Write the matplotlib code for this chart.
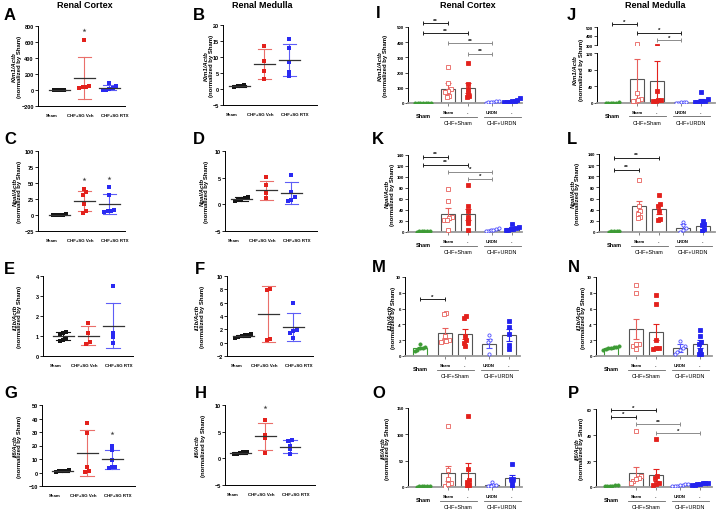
import matplotlib.pyplot as plt
import numpy as np

plt.rcParams['font.family'] = ['Liberation Sans', 'DejaVu Sans']
plt.rcParams['font.weight'] = 'bold'
plt.rcParams['axes.linewidth'] = 0.7

W, H = 719, 510

# ---------- left half: SG RTX study (mean +/- SD) ----------
sg_groups = ['Sham', 'CHF+SG Veh', 'CHF+SG RTX']

A_pts = [[0, 2, -2, 1], [624, 20, 35, 45, 40], [90, 50, 25, 10, 5, 0]]
A_mean = [0, 153, 30]
A_sd = [2, 263, 35]
A_star = [None, 745, None]

B_pts = [[0.7, 1.0, 1.3, 1.0], [13.5, 8.8, 5.5, 3.0], [15.5, 12.8, 8.3, 5.3, 4.0]]
B_mean = [1.0, 7.8, 9.1]
B_sd = [0.3, 4.6, 5.0]
B_star = [None, None, None]

C_pts = [[0, 0.5, 1, 0.5, 0], [41, 36, 32, 17, 7, 3], [43, 31, 8, 6, 5, 6]]
C_mean = [0.5, 22, 17]
C_sd = [0.5, 15, 15.5]
C_star = [None, 56, 58]

D_pts = [[1.3, 1.0, 0.7, 1.2, 0.8], [5.1, 3.6, 2.1, 1.1], [5.5, 2.3, 1.3, 0.9, 0.6]]
D_mean = [1.0, 2.6, 2.1]
D_sd = [0.3, 1.8, 2.0]
D_star = [None, None, None]

E_pts = [[1.2, 1.17, 1.12, 0.92, 0.82, 0.75], [1.65, 1.15, 0.7, 0.6], [3.5, 1.15, 0.95, 0.65]]
E_mean = [1.0, 1.02, 1.52]
E_sd = [0.19, 0.47, 1.13]
E_star = [None, None, None]

F_pts = [[0.7, 1.0, 1.3, 1.1, 0.8, 1.2], [8.1, 7.9, 0.6, 0.45], [5.9, 1.9, 1.7, 1.5, 0.7]]
F_mean = [1.0, 4.3, 2.35]
F_sd = [0.2, 4.2, 2.05]
F_star = [None, None, None]

G_pts = [[1.0, 1.5, 0.8, 1.2, 0.5], [37, 29, 4.3, 1.0, 0.2], [19.6, 16.4, 9.0, 4.3, 3.6, 4.3]]
G_mean = [1.0, 14.5, 9.8]
G_sd = [0.4, 17, 7.2]
G_star = [None, None, 29]

H_pts = [[0.8, 1.0, 1.1, 0.9, 1.2], [7.2, 4.3, 3.8, 1.0], [3.4, 3.3, 2.35, 1.7, 0.8]]
H_mean = [1.0, 4.1, 2.2]
H_sd = [0.2, 2.6, 1.2]
H_star = [None, 9.7, None]

# ---------- right half: URDN study (bars, mean +/- SEM) ----------
I_pts = [[1, 2, 0.5, 1.5, 1, 2, 0.5], [238, 129, 92, 76, 70, 48, 41],
         [266, 122, 92, 63, 44, 37], [3, 8, 5, 12, 10, 6], [33, 20, 9, 15, 5, 12, 8]]
I_mean = [1, 92, 98, 8, 12]
I_err = [0.5, 37, 33, 2, 4]
I_sig = [(0, 1, 524, '**'), (0, 2, 458, '**'), (1, 3, 395, '**'), (2, 3, 325, '**')]

J_pts = [[1.0, 1.5, 0.8, 1.2, 0.9, 1.1], [310, 23, 10, 6, 4, 8], [290, 28, 8, 4, 4, 7],
         [1.5, 2.0, 1.0, 2.5, 0.8], [27, 10, 3, 2, 4, 5, 1.5]]
J_mean = [1.0, 58, 54, 1.5, 5.6]
J_err = [0.3, 48, 47, 0.5, 5]
J_sig = [(0, 1, 530, '*'), (1, 3, 437, '*'), (2, 3, 356, '*')]

K_pts = [[1, 1.5, 0.5, 1, 2, 1], [78, 56, 27, 25, 21, 3, 22], [86, 48, 38, 27, 21, 16, 3],
         [2, 5, 8, 3, 4, 1], [15, 9, 6, 5, 8, 4, 3]]
K_mean = [1, 33, 32, 4, 7]
K_err = [0.3, 11, 10, 1.5, 1.5]
K_sig = [(0, 1, 137, '**'), (0, 2, 122.5, '**'), (1, 3, 110, '*'), (2, 3, 96.5, '*')]

L_pts = [[1, 1.5, 0.5, 1, 2], [93, 47, 37, 33, 27, 25], [67, 50, 47, 37, 23, 21],
         [18, 12, 6.6, 0.6, 3], [20, 15, 13, 5, 2]]
L_mean = [1, 46, 41, 8, 10]
L_err = [0.3, 9, 8, 6, 4]
L_sig = [(0, 2, 133, '**'), (0, 1, 112, '**')]

M_pts = [[1.56, 0.97, 0.63, 1.1, 0.8, 1.0], [5.4, 5.3, 2.0, 1.9, 1.8, 1.9, 2.5],
         [5.06, 4.85, 2.53, 2.0, 1.69, 1.27], [2.6, 2.0, 1.8, 0.3], [4.4, 3.67, 2.74, 0.93, 1.35]]
M_mean = [1.0, 2.95, 2.74, 1.56, 2.62]
M_err = [0.15, 0.65, 0.64, 0.55, 0.76]
M_sig = [(0, 1, 7.17, '*')]

N_pts = [[1.2, 0.9, 1.0, 1.3, 0.8, 1.0, 1.1], [9.0, 8.0, 1.56, 1.27, 1.5, 0.84],
         [7.7, 6.6, 2.0, 1.05, 1.0, 0.84], [1.9, 1.3, 1.0, 0.3, 0.8, 0.5],
         [3.25, 2.5, 1.8, 1.5, 0.3, 0.3, 0.8]]
N_mean = [1.0, 3.46, 3.04, 0.97, 1.48]
N_err = [0.1, 1.27, 1.06, 0.5, 0.5]
N_sig = []

O_pts = [[1, 1.5, 0.5, 1, 2, 1], [115, 32.5, 14.7, 8.3, 2, 5], [134.6, 33.8, 12.8, 9.6, 3.2, 2],
         [9.6, 3, 2, 2.5, 4], [43.4, 14.7, 8.3, 0.6, 16]]
O_mean = [1, 26, 27.4, 3.8, 16.6]
O_err = [0.2, 14, 19, 2.6, 6.4]
O_sig = []

P_pts = [[1, 1.5, 0.5, 1, 1.2, 0.8], [43.3, 8.5, 7.2, 4.6, 3.3, 5.9], [37.3, 8.5, 7.2, 3.3, 1.3, 2.5],
         [1.5, 2, 1, 0.8, 1.2, 2.5, 0.5], [3.3, 2.6, 1.8, 3.0, 2.2, 2.8, 1.5]]
P_mean = [1, 10.6, 9.3, 1.2, 2.5]
P_err = [0.2, 5.1, 4.9, 0.3, 0.4]
P_sig = [(0, 2, 59.2, '*'), (0, 1, 54, '*'), (1, 3, 48.4, '**'), (2, 4, 41.5, '*')]

fig = plt.figure(figsize=(7.19, 5.10), dpi=100)


def add_ax(l, r, t, b):
    return fig.add_axes([l / W, 1 - b / H, (r - l) / W, (b - t) / H])


def ftext(x, y, s, **kw):
    fig.text(x / W, 1 - y / H, s, **kw)


def ylabel2(gene, xg, xn, t, b):
    yc = (t + b) / 2
    ftext(xg, yc, gene, rotation=90, ha='center', va='center', fontsize=4.3, style='italic')
    ftext(xn, yc, '(normalized by Sham)', rotation=90, ha='center', va='center', fontsize=4.3)


def swarm(vals, ppu, step, gap=2.6):
    vals = np.asarray(vals, float)
    order = np.argsort(vals)
    offs = np.zeros(len(vals))
    clusters, cur = [], [order[0]]
    for i in order[1:]:
        if (vals[i] - vals[cur[-1]]) * ppu < gap:
            cur.append(i)
        else:
            clusters.append(cur)
            cur = [i]
    clusters.append(cur)
    for c in clusters:
        for k, i in enumerate(c):
            offs[i] = (k - (len(c) - 1) / 2) * step
    return offs


# ---------- scatter panels ----------
pt_cols = ['#151515', '#e3211c', '#2a2af2']
sd_cols = ['#151515', '#ea6f6b', '#5e5ef6']
label_pos = [-0.28, 0.85, 2.22]


def scatter_panel(rect, x0, pts, mean, sd, star, ylim, yticks):
    l, r, t, b = rect
    ax = add_ax(l, r, t, b)
    ax.set_xlim(x0, x0 + (r - l) / 25)
    ax.set_ylim(ylim)
    ppu = (b - t) / (ylim[1] - ylim[0])
    for g in range(3):
        offs = swarm(pts[g], ppu, 0.13)
        ax.plot(g + offs, pts[g], ls='none', marker='s', ms=2.4, mew=0,
                color=pt_cols[g], zorder=3, clip_on=False)
        lo, hi = mean[g] - sd[g], mean[g] + sd[g]
        ax.plot([g, g], [lo, hi], color=sd_cols[g], lw=0.8, zorder=2, clip_on=False)
        for yy in (lo, hi):
            ax.plot([g - 0.27, g + 0.27], [yy, yy], color=sd_cols[g], lw=0.8, zorder=2, clip_on=False)
        ax.plot([g - 0.42, g + 0.42], [mean[g]] * 2, color='#333333', lw=0.9, zorder=4)
        if star[g] is not None:
            ax.plot(g, star[g], ls='none', marker='*', ms=3, mew=0, color='#444444', zorder=3)
    ax.spines[['top', 'right']].set_visible(False)
    ax.set_yticks(yticks)
    ax.set_xticks(label_pos, sg_groups)
    ax.tick_params(axis='y', length=2, width=0.6, labelsize=4, pad=1)
    ax.tick_params(axis='x', length=0, labelsize=3.2, pad=5)
    return ax


left_panels = [
    ('A', (38, 125, 27, 107), -0.85, A_pts, A_mean, A_sd, A_star, (-200, 800), range(-200, 801, 200), 'Kim1/Actb', (14, 19)),
    ('B', (223, 317, 26, 106), -0.65, B_pts, B_mean, B_sd, B_star, (-5, 20), range(-5, 21, 5), 'Kim1/Actb', (206, 211)),
    ('C', (38, 125, 152, 232), -0.85, C_pts, C_mean, C_sd, C_star, (-25, 100), range(-25, 101, 25), 'Ngal/Actb', (15, 19)),
    ('D', (225, 317, 152, 232), -0.65, D_pts, D_mean, D_sd, D_star, (-5, 10), range(-5, 11, 5), 'Ngal/Actb', (202, 207)),
    ('E', (43, 133, 277, 357), -0.8, E_pts, E_mean, E_sd, E_star, (0, 4), range(0, 5), 'Il1b/Actb', (15, 20)),
    ('F', (227, 313, 277, 357), -0.65, F_pts, F_mean, F_sd, F_star, (-2, 10), range(-2, 11, 2), 'Il1b/Actb', (197, 202)),
    ('G', (42, 135, 406, 487), -0.8, G_pts, G_mean, G_sd, G_star, (-10, 50), range(-10, 51, 10), 'Il6/Actb', (15, 20)),
    ('H', (225, 315, 406, 486), -0.6, H_pts, H_mean, H_sd, H_star, (-5, 10), range(-5, 11, 5), 'Il6/Actb', (197, 203)),
]
letter_xy = {'A': (4, 16), 'B': (193, 16), 'C': (4, 140), 'D': (193, 140),
             'E': (4, 270), 'F': (195, 270), 'G': (4, 393), 'H': (195, 393),
             'I': (376, 14), 'J': (567, 15), 'K': (372, 140), 'L': (567, 140),
             'M': (372, 268), 'N': (568, 268), 'O': (372, 393), 'P': (568, 393)}

for name, rect, x0, pts, mean, sd, star, ylim, yt, gene, lx in left_panels:
    scatter_panel(rect, x0, pts, mean, sd, star, ylim, list(yt))
    ylabel2(gene, lx[0], lx[1], rect[2], rect[3])

# ---------- bar panels ----------
pos = [0, 1.25, 2.25, 3.45, 4.45]
mk = ['o', 's', 's', 'o', 's']
mfc = ['#3d9b35', 'white', '#e3211c', 'white', '#2323ee']
mec = ['#3d9b35', '#e8605c', '#e3211c', '#4d4dff', '#2323ee']
err_cols = ['#3d9b35', '#e8605c', '#e3211c', '#5555ff', '#2323ee']
bar_edges = ['#3d9b35', '#555555', '#555555', '#555555', '#555555']


def bar_axes(rect, ylim, yticks, bottom=True):
    l, r, t, b = rect
    ax = add_ax(l, r, t, b)
    ax.set_xlim(-0.75, -0.75 + (r - l) / 20)
    ax.set_ylim(ylim)
    ax.spines[['top', 'right']].set_visible(False)
    ax.spines['bottom'].set_color('#9a9a9a')
    ax.spines['bottom'].set_linewidth(1.3)
    ax.set_yticks(yticks)
    ax.tick_params(axis='y', length=2, width=0.5, labelsize=3.2, pad=1)
    if bottom:
        ax.set_xticks(pos[1:], [])
        ax.tick_params(axis='x', length=2, width=0.5, color='#555555')
    else:
        ax.spines['bottom'].set_visible(False)
        ax.set_xticks([])
    return ax


def draw_bars(ax, pts, mean, err, ppu, bars=True):
    for g in range(5):
        if bars:
            ax.bar(pos[g], mean[g], width=0.68, color='white', edgecolor=bar_edges[g], lw=0.8, zorder=1)
            ax.errorbar(pos[g], mean[g], yerr=err[g], color=err_cols[g], lw=0.8,
                        capsize=2, capthick=0.8, zorder=2)
        offs = swarm(pts[g], ppu, 0.13)
        ax.plot(pos[g] + offs, pts[g], ls='none', marker=mk[g], ms=2.3, mew=0.6,
                mfc=mfc[g], mec=mec[g], zorder=3)


def bar_xlabels(ax, hpx):
    tr = ax.get_xaxis_transform()

    def f(d):
        return -d / hpx
    ax.text(pos[0], f(13), 'Sham', transform=tr, ha='center', va='center', fontsize=4)
    for g, s in zip(range(1, 5), ['Sham', '-', 'URDN', '-']):
        ax.text(pos[g], f(9.5), s, transform=tr, ha='center', va='center', fontsize=3)
    for a, c, s in [(1, 2, 'CHF+Sham'), (3, 4, 'CHF+URDN')]:
        ax.plot([pos[a] - 0.4, pos[c] + 0.45], [f(13.5)] * 2, transform=tr,
                color='#666666', lw=0.6, clip_on=False)
        ax.text((pos[a] + pos[c]) / 2, f(20), s, transform=tr, ha='center', va='center',
                fontsize=4, weight='normal')


def brackets(ax, items):
    for k, (i, j, y, s) in enumerate(items):
        c = '#222222' if k < 2 else '#8c8c8c'
        ax.plot([pos[i], pos[j]], [y, y], color=c, lw=0.7, marker='|', ms=3, mew=0.7,
                clip_on=False, zorder=5)
        ax.annotate(s, xy=((pos[i] + pos[j]) / 2, y), xytext=(0, 0.5), textcoords='offset pixels',
                    ha='center', va='bottom', fontsize=4.5, color='#111111', annotation_clip=False)


bar_panels = [
    ('I', (408, 522, 28, 104), I_pts, I_mean, I_err, I_sig, (0, 500), range(0, 501, 100), 'Kim1/Actb', (380, 385)),
    ('K', (408, 522, 156, 233), K_pts, K_mean, K_err, K_sig, (0, 140), range(0, 141, 20), 'Ngal/Actb', (387, 392)),
    ('L', (599, 715, 155, 233), L_pts, L_mean, L_err, L_sig, (0, 140), range(0, 141, 20), 'Ngal/Actb', (573, 578)),
    ('M', (405, 520, 278, 357), M_pts, M_mean, M_err, M_sig, (0, 10), range(0, 11, 2), 'Il1b/Actb', (390, 394)),
    ('N', (596, 712, 278, 357), N_pts, N_mean, N_err, N_sig, (0, 10), range(0, 11, 2), 'Il1b/Actb', (579, 584)),
    ('O', (408, 522, 409, 488), O_pts, O_mean, O_err, O_sig, (0, 150), range(0, 151, 50), 'Il6/Actb', (383, 388)),
    ('P', (596, 712, 410, 488), P_pts, P_mean, P_err, P_sig, (0, 60), range(0, 61, 20), 'Il6/Actb', (577, 582)),
]

for name, rect, pts, mean, err, sig, ylim, yt, gene, lx in bar_panels:
    ax = bar_axes(rect, ylim, list(yt))
    hpx = rect[3] - rect[2]
    draw_bars(ax, pts, mean, err, hpx / (ylim[1] - ylim[0]))
    bar_xlabels(ax, hpx)
    brackets(ax, sig)
    ylabel2(gene, lx[0], lx[1], rect[2], rect[3])

# panel J: broken y axis
ax_jt = bar_axes((597, 715, 28, 46), (300, 500), [300, 400, 500], bottom=False)
ax_jb = bar_axes((597, 715, 54, 104), (0, 120), [0, 40, 80, 120])
draw_bars(ax_jb, J_pts, J_mean, J_err, 50 / 120)
draw_bars(ax_jt, J_pts, J_mean, J_err, 50 / 120, bars=False)
bar_xlabels(ax_jb, 50)
brackets(ax_jt, J_sig)
ylabel2('Kim1/Actb', 575, 581, 40, 100)

# titles and panel letters
for x, s in [(85, 'Renal Cortex'), (262, 'Renal Medulla'), (468, 'Renal Cortex'), (655, 'Renal Medulla')]:
    ftext(x, 6, s, ha='center', va='center', fontsize=6.5)
for s, (x, y) in letter_xy.items():
    ftext(x, y, s, ha='left', va='center', fontsize=12)

fig.savefig('out.png', dpi=100)
